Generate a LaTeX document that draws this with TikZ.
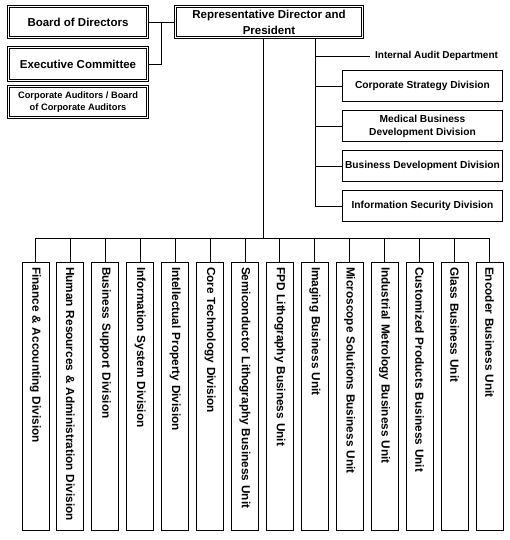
\documentclass[tikz,border=0pt]{standalone}
\usepackage{fontspec}
\setmainfont{Liberation Sans}
\begin{document}
\begin{tikzpicture}[x=1pt,y=-1pt,
  conn/.style={line width=0.9pt},
  dbox/.style={draw, double, line width=0.8pt, double distance=1.2pt, align=center, inner sep=0pt,
    font=\bfseries\fontsize{11.5}{16}\selectfont},
  sbox/.style={draw, line width=0.9pt, align=center, inner sep=0pt, minimum width=160pt, minimum height=31pt,
    font=\bfseries\fontsize{10.2}{13}\selectfont},
  vbox/.style={draw, line width=0.9pt, rotate=-90, minimum height=27pt, inner xsep=4.5pt, inner ysep=0pt,
    text width=259pt, align=left, font=\bfseries\fontsize{11.8}{13}\selectfont}]
\useasboundingbox (0,0) rectangle (510,540);

% top-left boxes
\node[dbox, minimum width=139pt, minimum height=31pt] (bod) at (78,22) {Board of Directors};
\node[dbox, minimum width=139pt, minimum height=33pt] (exec) at (78,64) {Executive Committee};
\node[dbox, minimum width=139pt, minimum height=31pt, font=\bfseries\fontsize{9.3}{12.5}\selectfont] (aud) at (78,102) {Corporate Auditors / Board\\of Corporate Auditors};
\node[dbox, minimum width=187pt, minimum height=31pt] (rep) at (269,22) {Representative Director and\\President};

\coordinate (j1) at (161,22);
\draw[conn] (bod.east) -- (rep.west);
\draw[conn] (exec.east) -| (j1);

% right-hand staff units
\node[anchor=west, inner xsep=5pt, inner ysep=0pt, font=\bfseries\fontsize{10}{12}\selectfont] (iad) at (370,56) {Internal Audit Department};
\node[sbox] (cs) at (422.5,86) {Corporate Strategy Division};
\node[sbox] (med) at (422.5,126) {Medical Business\\Development Division};
\node[sbox] (bd) at (422.5,166) {Business Development Division};
\node[sbox] (is) at (422.5,206) {Information Security Division};

\coordinate (sx) at (315,0);
\draw[conn] (rep.south -| sx) |- (is.west);
\draw[conn] (sx |- iad.west) -- (iad.west);
\draw[conn] (sx |- cs.west) -- (cs.west);
\draw[conn] (sx |- med.west) -- (med.west);
\draw[conn] (sx |- bd.west) -- (bd.west);

% bottom divisions
\foreach \i/\t in {1/Finance \& Accounting Division,
  2/Human Resources \& Administration Division,
  3/Business Support Division,
  4/Information System Division,
  5/Intellectual Property Division,
  6/Core Technology Division,
  7/Semiconductor Lithography Business Unit,
  8/FPD Lithography Business Unit,
  9/Imaging Business Unit,
  10/Microscope Solutions Business Unit,
  11/Industrial Metrology Business Unit,
  12/Customized Products Business Unit,
  13/Glass Business Unit,
  14/Encoder Business Unit}{
  \node[vbox] (v\i) at ({35.5+34.92*(\i-1)},396.5) {\t};
}
\coordinate (m) at (263,238);
\draw[conn] (rep.south -| m) -- (m);
\draw[conn] (v1.west |- m) -- (v14.west |- m);
\foreach \i in {1,...,14}{
  \draw[conn] (v\i.west |- m) -- (v\i.west);
}
\end{tikzpicture}
\end{document}
